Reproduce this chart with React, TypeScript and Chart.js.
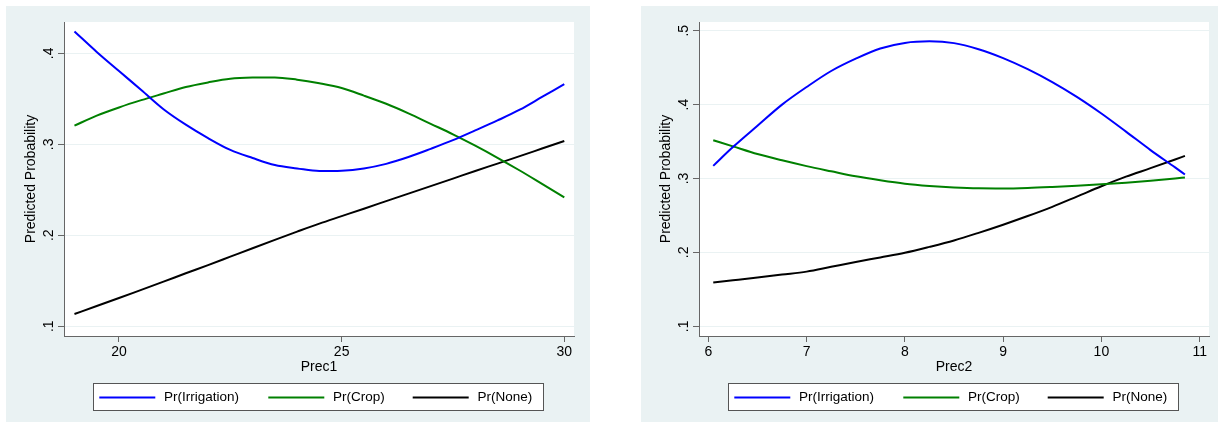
import React, { useEffect, useRef } from 'react';
import { Chart, registerables } from 'chart.js';

Chart.register(...registerables);

// Series names and colours shared by both panels
const seriesLabels = ['Pr(Irrigation)', 'Pr(Crop)', 'Pr(None)'];
const seriesColors = ['#0000ff', '#008000', '#000000'];

// Panel 1: predicted probabilities over Prec1
const prec1 = [19, 19.5, 20, 20.5, 21, 21.5, 22, 22.5, 23, 23.5, 24, 24.5, 25, 25.5, 26, 26.5, 27, 27.5, 28, 28.5, 29, 29.5, 30];
const prec1Irrigation = [0.424, 0.4015, 0.3805, 0.3597, 0.3386, 0.3216, 0.3068, 0.2938, 0.2849, 0.2772, 0.2735, 0.2706, 0.271, 0.2735, 0.2785, 0.286, 0.295, 0.3045, 0.3152, 0.3262, 0.338, 0.352, 0.366];
const prec1Crop = [0.3205, 0.3315, 0.3405, 0.3485, 0.3558, 0.363, 0.368, 0.372, 0.3733, 0.3735, 0.371, 0.367, 0.3618, 0.3535, 0.3445, 0.334, 0.3225, 0.311, 0.2985, 0.2852, 0.2712, 0.2565, 0.2417];
const prec1None = [0.1135, 0.1222, 0.131, 0.14, 0.149, 0.1582, 0.1672, 0.1765, 0.1858, 0.195, 0.204, 0.2128, 0.221, 0.2292, 0.2375, 0.2458, 0.254, 0.2623, 0.2707, 0.2788, 0.287, 0.2953, 0.3036];
const prec1Ticks = [20, 25, 30];
const prec1ProbTicks = [0.1, 0.2, 0.3, 0.4];

// Panel 2: predicted probabilities over Prec2
const prec2 = [6.05, 6.25, 6.5, 6.75, 7, 7.25, 7.5, 7.75, 8, 8.25, 8.5, 8.75, 9, 9.25, 9.5, 9.75, 10, 10.25, 10.5, 10.75, 10.85];
const prec2Irrigation = [0.3171, 0.3425, 0.3714, 0.4, 0.4238, 0.4455, 0.4622, 0.476, 0.4835, 0.4856, 0.4832, 0.475, 0.463, 0.448, 0.4305, 0.4105, 0.388, 0.3635, 0.3385, 0.315, 0.3054];
const prec2Crop = [0.3518, 0.3435, 0.3331, 0.3246, 0.3168, 0.3098, 0.303, 0.2976, 0.293, 0.29, 0.2879, 0.2867, 0.2865, 0.2872, 0.2886, 0.2903, 0.2922, 0.2944, 0.297, 0.3, 0.3014];
const prec2None = [0.1594, 0.1623, 0.166, 0.17, 0.174, 0.1805, 0.187, 0.1932, 0.1995, 0.2075, 0.2162, 0.2265, 0.2375, 0.2492, 0.2617, 0.2755, 0.2895, 0.3025, 0.314, 0.3258, 0.3306];
const prec2Ticks = [6, 7, 8, 9, 10, 11];
const prec2ProbTicks = [0.1, 0.2, 0.3, 0.4, 0.5];

const FONT = "'Liberation Sans', Arial, Helvetica, sans-serif";
const PANEL_BG = '#eaf2f3';
const AXIS = '#666666';

// ".4" style labels for probabilities
const fmtProb = (v: number) => {
  const s = (Math.round(v * 10) / 10).toString();
  return s.startsWith('0') ? s.slice(1) : s;
};

// White plot region, rotated y labels, y title and the boxed legend
const decorPlugin = {
  id: 'decor',
  beforeDraw(chart: any) {
    const { ctx, chartArea: a } = chart;
    ctx.save();
    ctx.fillStyle = '#ffffff';
    ctx.fillRect(a.left, a.top, a.right - a.left, a.bottom - a.top);
    ctx.restore();
  },
  afterDraw(chart: any) {
    const { ctx, chartArea: a } = chart;
    const ys = chart.scales.y;
    ctx.save();
    ctx.fillStyle = '#000';
    ctx.font = `14px ${FONT}`;
    ctx.textAlign = 'center';
    ctx.textBaseline = 'alphabetic';
    ys.ticks.forEach((t: any) => {
      const py = ys.getPixelForValue(t.value);
      ctx.save();
      ctx.translate(46.5, py);
      ctx.rotate(-Math.PI / 2);
      ctx.fillText(fmtProb(t.value), 0, 0);
      ctx.restore();
    });

    ctx.save();
    ctx.translate(29, (a.top + a.bottom) / 2);
    ctx.rotate(-Math.PI / 2);
    ctx.fillText('Predicted Probability', 0, 0);
    ctx.restore();

    // legend box
    const bx = 87, by = 377, bw = 451, bh = 28;
    ctx.fillStyle = '#ffffff';
    ctx.fillRect(bx, by, bw, bh);
    ctx.strokeStyle = '#555555';
    ctx.lineWidth = 1;
    ctx.strokeRect(bx + 0.5, by + 0.5, bw - 1, bh - 1);
    const starts = [6.3, 175.3, 319.7];
    const ly = by + bh / 2 + 0.5;
    ctx.font = `13.5px ${FONT}`;
    chart.data.datasets.forEach((ds: any, i: number) => {
      const x0 = bx + starts[i];
      ctx.strokeStyle = ds.borderColor;
      ctx.lineWidth = 2;
      ctx.beginPath();
      ctx.moveTo(x0, ly);
      ctx.lineTo(x0 + 56, ly);
      ctx.stroke();
      ctx.fillStyle = '#000';
      ctx.textAlign = 'left';
      ctx.textBaseline = 'middle';
      ctx.fillText(ds.label, x0 + 64.7, ly);
    });
    ctx.restore();
  },
};

type PanelProps = {
  xs: number[];
  series: number[][];
  xTicks: number[];
  yTicks: number[];
  xTitle: string;
  xMin: number;
  xMax: number;
  yMin: number;
  yMax: number;
};

function Panel({ xs, series, xTicks, yTicks, xTitle, xMin, xMax, yMin, yMax }: PanelProps) {
  const ref = useRef<HTMLCanvasElement | null>(null);
  useEffect(() => {
    if (!ref.current) return;
    const chart = new Chart(ref.current, {
      type: 'line',
      data: {
        datasets: series.map((ys, i) => ({
          label: seriesLabels[i],
          data: xs.map((x, j) => ({ x, y: ys[j] })),
          borderColor: seriesColors[i],
          backgroundColor: seriesColors[i],
          borderWidth: 2,
          pointRadius: 0,
          cubicInterpolationMode: 'monotone' as const,
          fill: false,
        })),
      },
      options: {
        responsive: false,
        animation: false,
        devicePixelRatio: 1,
        layout: { padding: { left: 0, top: 16, right: 16, bottom: 46 } },
        plugins: { legend: { display: false }, tooltip: { enabled: false } },
        scales: {
          x: {
            type: 'linear',
            min: xMin,
            max: xMax,
            afterBuildTicks: (s: any) => { s.ticks = xTicks.map((v) => ({ value: v })); },
            afterFit: (s: any) => { s.height = 40; },
            grid: { drawOnChartArea: false, drawTicks: true, tickLength: 6, color: AXIS, tickColor: AXIS },
            border: { color: AXIS, width: 1 },
            ticks: {
              color: '#000',
              font: { family: FONT, size: 14 },
              padding: 2,
              maxRotation: 0,
              autoSkip: false,
              callback: (v: any) => String(v),
            },
            title: {
              display: true,
              text: xTitle,
              color: '#000',
              font: { family: FONT, size: 14 },
              padding: { top: 0, bottom: 0 },
            },
          },
          y: {
            type: 'linear',
            min: yMin,
            max: yMax,
            afterBuildTicks: (s: any) => { s.ticks = yTicks.map((v) => ({ value: v })); },
            afterFit: (s: any) => { s.width = 58; },
            grid: { color: PANEL_BG, tickColor: AXIS, tickLength: 6, lineWidth: 1 },
            border: { color: AXIS, width: 1 },
            ticks: { display: false },
          },
        },
      },
      plugins: [decorPlugin],
    } as any);
    return () => chart.destroy();
  }, []);
  return <canvas ref={ref} width={584} height={416} style={{ display: 'block' }} />;
}

export default function App() {
  return (
    <div style={{ position: 'fixed', left: 0, top: 0, width: 1218, height: 423, background: '#fff', overflow: 'hidden' }}>
      <div style={{ position: 'absolute', left: 6, top: 6, width: 584, height: 416, background: PANEL_BG }}>
        <Panel
          xs={prec1}
          series={[prec1Irrigation, prec1Crop, prec1None]}
          xTicks={prec1Ticks}
          yTicks={prec1ProbTicks}
          xTitle="Prec1"
          xMin={18.765}
          xMax={30.218}
          yMin={0.0893}
          yMax={0.4344}
        />
      </div>
      <div style={{ position: 'absolute', left: 641, top: 6, width: 584, height: 416, background: PANEL_BG }}>
        <Panel
          xs={prec2}
          series={[prec2Irrigation, prec2Crop, prec2None]}
          xTicks={prec2Ticks}
          yTicks={prec2ProbTicks}
          xTitle="Prec2"
          xMin={5.905}
          xMax={11.095}
          yMin={0.0869}
          yMax={0.5118}
        />
      </div>
    </div>
  );
}
